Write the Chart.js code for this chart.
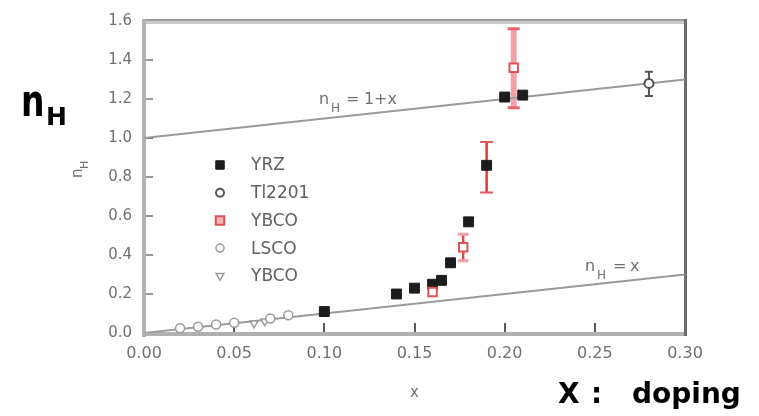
<!DOCTYPE html>
<html><head><meta charset="utf-8">
<script src="https://cdn.jsdelivr.net/npm/chart.js@4/dist/chart.umd.min.js"></script>
<style>html,body{margin:0;padding:0;background:#fff;}canvas{display:block;}</style>
</head><body>
<canvas id="c" width="759" height="416"></canvas>
<script>
// ---------- data ----------
const xTickLabels = ['0.00','0.05','0.10','0.15','0.20','0.25','0.30'];
const yTickLabels = ['0.0','0.2','0.4','0.6','0.8','1.0','1.2','1.4','1.6'];

const yrzX  = [0.10, 0.14, 0.15, 0.16, 0.165, 0.17, 0.18, 0.19, 0.20, 0.21];
const yrzY  = [0.11, 0.20, 0.23, 0.25, 0.27, 0.36, 0.57, 0.86, 1.21, 1.22];
const yrzLo = [null, null, null, null, null, null, null, 0.72, null, null];
const yrzHi = [null, null, null, null, null, null, null, 0.98, null, null];

const tlX  = [0.28];
const tlY  = [1.28];
const tlLo = [1.215];
const tlHi = [1.34];

const ybcoX  = [0.16, 0.177, 0.205];
const ybcoY  = [0.21, 0.44, 1.36];
const ybcoLo = [null, 0.37, 1.155];
const ybcoHi = [null, 0.506, 1.56];

const lscoX = [0.02, 0.03, 0.04, 0.05, 0.07, 0.08];
const lscoY = [0.024, 0.032, 0.044, 0.052, 0.074, 0.091];

const ybco2X = [0.061, 0.067];
const ybco2Y = [0.05, 0.06];

const lineX   = [0.0, 0.30];
const line1Y  = [1.0, 1.30];   // nH = 1 + x
const line2Y  = [0.0, 0.30];   // nH = x

// ---------- helpers ----------
const pts = (xs, ys) => xs.map((x, i) => ({x: x, y: ys[i]}));
const FONT = '"DejaVu Sans", sans-serif';

const errorBars = {
  id: 'errorBars',
  beforeDatasetsDraw(chart) {
    const ctx = chart.ctx, xs = chart.scales.x, ys = chart.scales.y;
    chart.data.datasets.forEach(ds => {
      if (!ds.errLo) return;
      ds.data.forEach((p, i) => {
        const lo = ds.errLo[i], hi = ds.errHi[i];
        if (lo == null || hi == null) return;
        const st = ds.errStyle[i] || ds.errStyle[0];
        const px = xs.getPixelForValue(p.x);
        const pl = ys.getPixelForValue(lo), ph = ys.getPixelForValue(hi);
        ctx.save();
        ctx.strokeStyle = st.color; ctx.lineWidth = st.width;
        ctx.beginPath(); ctx.moveTo(px, pl); ctx.lineTo(px, ph); ctx.stroke();
        ctx.strokeStyle = st.capColor; ctx.lineWidth = st.capWidth;
        ctx.beginPath();
        ctx.moveTo(px - st.cap/2, pl); ctx.lineTo(px + st.cap/2, pl);
        ctx.moveTo(px - st.cap/2, ph); ctx.lineTo(px + st.cap/2, ph);
        ctx.stroke();
        ctx.restore();
      });
    });
  }
};

function drawNH(ctx, x, y, rest, size, color) {
  ctx.save();
  ctx.fillStyle = color;
  ctx.textBaseline = 'alphabetic';
  ctx.textAlign = 'left';
  ctx.font = size + 'px ' + FONT;
  ctx.fillText('n', x, y);
  ctx.font = Math.round(size * 0.72) + 'px ' + FONT;
  ctx.fillText('H', x + 12, y + 8);
  ctx.font = size + 'px ' + FONT;
  rest.forEach(r => ctx.fillText(r[0], x + r[1], y));
  ctx.restore();
}

const decor = {
  id: 'decor',
  beforeDatasetsDraw(chart) {
    const ctx = chart.ctx, a = chart.chartArea, xs = chart.scales.x, ys = chart.scales.y;
    ctx.save();
    // frame
    ctx.fillStyle = '#9c9c9c'; ctx.fillRect(a.left, a.top - 2, a.right - a.left + 2, 2);
    ctx.fillStyle = '#cacaca'; ctx.fillRect(a.left, a.top, a.right - a.left, 3);
    ctx.fillStyle = '#b2b2b2'; ctx.fillRect(a.left - 2, a.top - 2, 4, a.bottom - a.top + 6);
    ctx.fillStyle = '#b0b0b0'; ctx.fillRect(a.left - 2, a.bottom - 1, a.right - a.left + 4, 4);
    ctx.fillStyle = '#6c6c6c'; ctx.fillRect(a.right - 1, a.top - 2, 3, a.bottom - a.top + 5);
    // inward ticks
    ctx.lineWidth = 2;
    ys.ticks.forEach(t => {
      if (t.value <= 0 || t.value >= 1.6) return;
      const py = Math.round(ys.getPixelForValue(t.value));
      ctx.strokeStyle = Math.abs(t.value - 1) < 1e-6 ? '#666' : '#999';
      ctx.beginPath(); ctx.moveTo(a.left + 2, py); ctx.lineTo(a.left + 9, py); ctx.stroke();
    });
    xs.ticks.forEach(t => {
      if (t.value <= 0 || t.value >= 0.3 - 1e-9) return;
      const px = Math.round(xs.getPixelForValue(t.value));
      ctx.strokeStyle = '#5a5a5a';
      ctx.beginPath(); ctx.moveTo(px, a.bottom - 1); ctx.lineTo(px, a.bottom - 10); ctx.stroke();
    });
    ctx.restore();
  },
  afterDraw(chart) {
    const ctx = chart.ctx, xs = chart.scales.x, ys = chart.scales.y;
    // line annotations
    drawNH(ctx, xs.getPixelForValue(0.097), ys.getPixelForValue(1.175), [['=', 27], ['1+x', 45]], 16, '#707070');
    drawNH(ctx, xs.getPixelForValue(0.2446), ys.getPixelForValue(0.319), [['=', 28], ['x', 45]], 16, '#707070');

    // legend
    const legendItems = chart.data.datasets.filter(d => d.inLegend);
    ctx.save();
    legendItems.forEach((d, i) => {
      const y = 165 + i * 27.7;
      ctx.fillStyle = d.legendFill || d.pointBackgroundColor;
      ctx.strokeStyle = d.pointBorderColor;
      ctx.lineWidth = d.pointBorderWidth;
      Chart.helpers.drawPoint(ctx, {pointStyle: d.pointStyle, radius: d.legendRadius, rotation: d.pointRotation || 0, borderWidth: d.pointBorderWidth}, 220, y);
      ctx.fillStyle = '#606060';
      ctx.font = '17px ' + FONT;
      ctx.textBaseline = 'middle';
      ctx.textAlign = 'left';
      ctx.fillText(d.label, 251, y + 1);
    });
    ctx.restore();

    // axis titles
    ctx.save();
    ctx.fillStyle = '#707070';
    ctx.font = '15px ' + FONT;
    ctx.textAlign = 'center';
    ctx.textBaseline = 'alphabetic';
    ctx.fillText('x', (chart.chartArea.left + chart.chartArea.right) / 2, 397);
    ctx.translate(82, 178);
    ctx.rotate(-Math.PI / 2);
    ctx.textAlign = 'left';
    ctx.fillText('n', 0, 0);
    ctx.font = '11px ' + FONT;
    ctx.fillText('H', 9, 6);
    ctx.restore();

    // big black labels
    ctx.save();
    ctx.fillStyle = '#000';
    ctx.textBaseline = 'alphabetic';
    ctx.textAlign = 'left';
    ctx.save();
    ctx.translate(21, 116);
    ctx.scale(1, 1.35);
    ctx.font = 'bold 33px ' + FONT;
    ctx.fillText('n', 0, 0);
    ctx.restore();
    ctx.font = 'bold 25px ' + FONT;
    ctx.fillText('H', 46, 125);
    ctx.font = 'bold 28px ' + FONT;
    ctx.fillText('X', 558, 403);
    ctx.fillText(':', 591, 403);
    ctx.fillText('doping', 632, 403);
    ctx.restore();
  }
};

new Chart(document.getElementById('c'), {
  type: 'scatter',
  data: {
    datasets: [
      { label: 'nH = 1+x', data: pts(lineX, line1Y), showLine: true, borderColor: '#9a9a9a', borderWidth: 2,
        pointRadius: 0, order: 10 },
      { label: 'nH = x', data: pts(lineX, line2Y), showLine: true, borderColor: '#9a9a9a', borderWidth: 2,
        pointRadius: 0, order: 10 },
      { label: 'YRZ', inLegend: true, data: pts(yrzX, yrzY), pointStyle: 'rect', pointRadius: 7, legendRadius: 6,
        pointBackgroundColor: '#1c1c1c', pointBorderColor: '#1c1c1c', pointBorderWidth: 1, order: 2,
        errLo: yrzLo, errHi: yrzHi,
        errStyle: [{color: '#dd3a3a', width: 2.5, capColor: '#e05a5a', capWidth: 2, cap: 13}] },
      { label: 'Tl2201', inLegend: true, data: pts(tlX, tlY), pointStyle: 'circle', pointRadius: 4.5, legendRadius: 4,
        pointBackgroundColor: '#ffffff', pointBorderColor: '#555555', pointBorderWidth: 2, order: 2,
        errLo: tlLo, errHi: tlHi,
        errStyle: [{color: '#555555', width: 2, capColor: '#555555', capWidth: 2, cap: 8}] },
      { label: 'YBCO', inLegend: true, data: pts(ybcoX, ybcoY), pointStyle: 'rect', pointRadius: 6, legendRadius: 6,
        pointBackgroundColor: '#ffffff', legendFill: '#f4b4b8', pointBorderColor: '#e2505a', pointBorderWidth: 2, order: 1,
        errLo: ybcoLo, errHi: ybcoHi,
        errStyle: [null,
          {color: '#e04a52', width: 2.5, capColor: '#f0a0a6', capWidth: 3, cap: 11},
          {color: '#f2a2a8', width: 6, capColor: '#e8646c', capWidth: 3, cap: 12}] },
      { label: 'LSCO', inLegend: true, data: pts(lscoX, lscoY), pointStyle: 'circle', pointRadius: 4.5, legendRadius: 4,
        pointBackgroundColor: '#ffffff', pointBorderColor: '#9a9a9a', pointBorderWidth: 1.5, order: 3 },
      { label: 'YBCO', inLegend: true, data: pts(ybco2X, ybco2Y), pointStyle: 'triangle', pointRotation: 180,
        pointRadius: 4.5, legendRadius: 4.5,
        pointBackgroundColor: '#ffffff', pointBorderColor: '#9a9a9a', pointBorderWidth: 1.5, order: 3 }
    ]
  },
  options: {
    responsive: false,
    devicePixelRatio: 1,
    animation: false,
    events: [],
    layout: { padding: { top: 17, right: 74, left: 0, bottom: 0 } },
    plugins: { legend: { display: false }, tooltip: { enabled: false } },
    scales: {
      x: {
        type: 'linear', min: 0, max: 0.30,
        afterBuildTicks: s => { s.ticks = xTickLabels.map(v => ({value: parseFloat(v)})); },
        ticks: { callback: (v, i) => xTickLabels[i], color: '#707070', font: {family: FONT, size: 16}, padding: 11, maxRotation: 0, autoSkip: false },
        grid: { display: false, drawTicks: false },
        border: { display: false },
        afterFit: s => { s.height = 83; }
      },
      y: {
        type: 'linear', min: 0, max: 1.6,
        afterBuildTicks: s => { s.ticks = yTickLabels.map(v => ({value: parseFloat(v)})); },
        ticks: { callback: (v, i) => yTickLabels[i], color: '#707070', font: {family: FONT, size: 15}, padding: 12, autoSkip: false },
        grid: { display: false, drawTicks: false },
        border: { display: false },
        afterFit: s => { s.width = 144; }
      }
    }
  },
  plugins: [errorBars, decor]
});
</script>
</body></html>
